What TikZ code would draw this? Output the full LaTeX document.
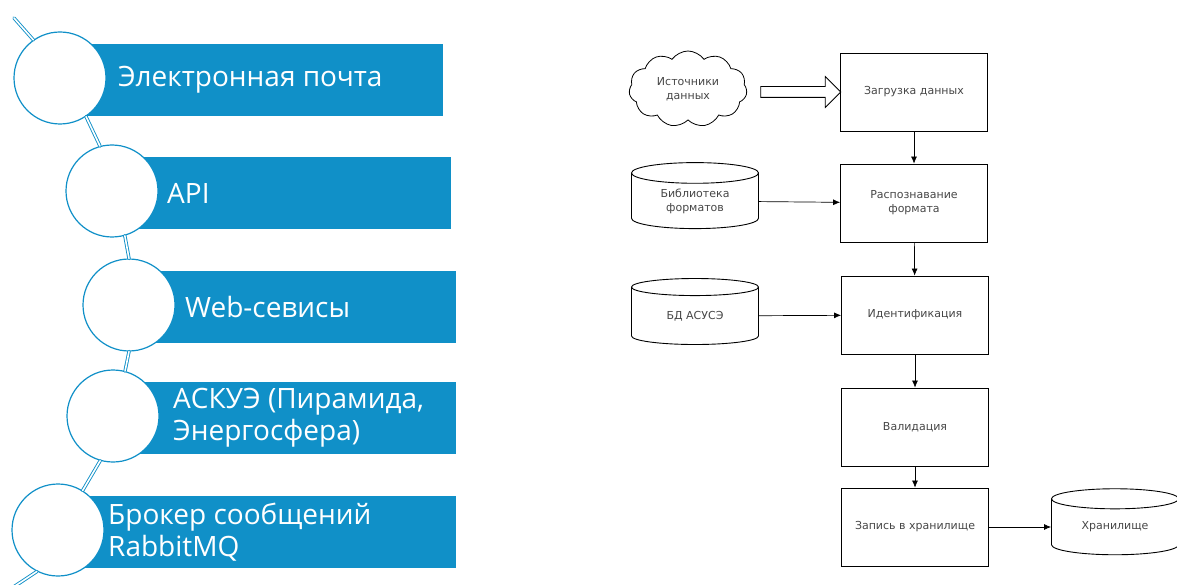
\documentclass[tikz,border=0pt]{standalone}
\usepackage{fontspec}
\setmainfont{DejaVu Sans}
\newfontfamily\barfont{Open Sans}
\usepackage{tikz}
\usetikzlibrary{arrows.meta,shapes.geometric,shapes.symbols,shapes.arrows,positioning}

\definecolor{chainblue}{RGB}{16,144,200}
\definecolor{flowtext}{RGB}{70,70,70}

\tikzset{
  bar/.style={fill=chainblue, anchor=west, minimum height=72, inner sep=0},
  bead/.style={circle, draw=chainblue, line width=1.2pt, fill=white, minimum size=92, inner sep=0},
  link/.style={draw=chainblue, line width=0.9pt, double=white, double distance=1.6pt, line cap=round},
  bartext/.style={anchor=west, text=white, align=left, inner sep=0, font=\barfont\fontsize{28}{32}\selectfont},
  stepbox/.style={draw, line width=0.8pt, minimum width=147, minimum height=78, align=center,
    text=flowtext, font=\fontsize{11}{14}\selectfont},
  store/.style={cylinder, shape border rotate=90, draw, line width=0.9pt, aspect=0.3,
    minimum width=127, minimum height=66, inner sep=0, align=center, text=flowtext, font=\fontsize{11}{14}\selectfont},
  flow/.style={-{Latex[length=7pt,width=6pt]}, line width=0.7pt}
}

\begin{document}
\begin{tikzpicture}[x=1pt,y=-1pt]
  \useasboundingbox (0,0) rectangle (1177,585);

  % sources on the left
  \foreach \i/\cx/\cy/\rx/\tx/\txt in {
      1/60/78/443/118/{Электронная почта},
      2/112/191/451/167/{API},
      3/129/305/456/185/{Web-севисы},
      4/113/416/456/173/{АСКУЭ (Пирамида,\\Энергосфера)},
      5/58/530/456/108/{Брокер сообщений\\RabbitMQ}}
  {
    \node[bar, minimum width={\rx-\cx}] (bar\i) at (\cx,\cy+2) {};
    \node[bead] (bead\i) at (\cx,\cy) {};
    \node[bartext] (lbl\i) at (\tx,\cy+2) {\txt};
  }
  \coordinate (chaintop) at (14,18);
  \coordinate (chainend) at (6,592);
  \draw[link] (chaintop) -- (bead1.125);
  \draw[link] (bead1.-56) -- (bead2.105);
  \draw[link] (bead2.-74) -- (bead3.90);
  \draw[link] (bead3.-90) -- (bead4.75);
  \draw[link] (bead4.-106) -- (bead5.58);
  \draw[link] (bead5.-117) -- (chainend);

  % processing chain on the right
  \node[stepbox] (load) at (914,92) {Загрузка данных};
  \node[stepbox] (recog) at (914,203) {Распознавание\\формата};
  \node[stepbox] (ident) at (915,315) {Идентификация};
  \node[stepbox] (valid) at (915,427) {Валидация};
  \node[stepbox] (write) at (915,527) {Запись в хранилище};

  \node[cloud, cloud puffs=11, cloud puff arc=110, aspect=1.6, draw, line width=0.8pt,
    minimum width=118, minimum height=76, inner sep=0, align=center, text=flowtext,
    font=\fontsize{11}{14}\selectfont] (src) at (688,89) {Источники\\данных};
  \node[single arrow, draw, line width=0.8pt, minimum height=80, inner sep=5pt,
    single arrow head extend=10pt, single arrow head indent=0pt] (feed) at (798,92) {};

  \node[store] (formats) at (695,201) {Библиотека\\форматов};
  \node[store] (asuse) at (695,316) {БД АСУСЭ};
  \node[store] (storage) at (1115,527) {Хранилище};

  \draw[flow] (load) -- (recog);
  \draw[flow] (recog) -- (ident);
  \draw[flow] (ident) -- (valid);
  \draw[flow] (valid) -- (write);
  \draw[flow] (formats) -- (recog);
  \draw[flow] (asuse) -- (ident);
  \draw[flow] (write) -- (storage);
\end{tikzpicture}
\end{document}
